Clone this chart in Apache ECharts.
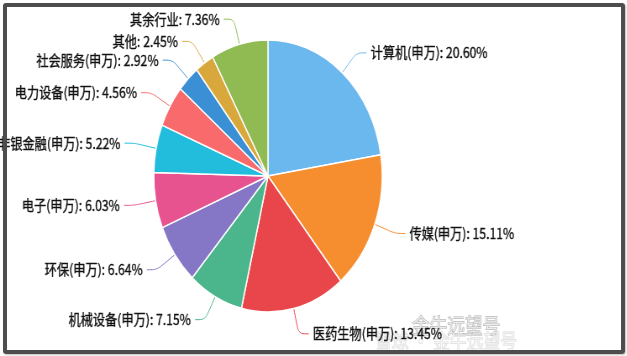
<!DOCTYPE html>
<html>
<head>
<meta charset="utf-8">
<script src="https://cdn.jsdelivr.net/npm/echarts@6/dist/echarts.min.js"></script>
<style>
html,body{margin:0;padding:0;background:#fff;width:627px;height:356px;overflow:hidden;}
#wrap{position:absolute;left:0;top:0;width:746px;height:356px;transform:scaleX(0.84);transform-origin:0 0;}
#chart{width:746px;height:356px;}
#frame{position:absolute;left:3px;top:3px;width:622px;height:351px;box-sizing:border-box;border:4px solid #4d4d4d;border-radius:3px;pointer-events:none;box-shadow:1px 1px 2px rgba(0,0,0,0.25);}
</style>
</head>
<body>
<div id="wrap"><div id="chart"></div></div>
<div id="frame"></div>
<script>
const categories = ['计算机(申万)','传媒(申万)','医药生物(申万)','机械设备(申万)','环保(申万)','电子(申万)','非银金融(申万)','电力设备(申万)','社会服务(申万)','其他','其余行业'];
const values = [20.60, 15.11, 13.45, 7.15, 6.64, 6.03, 5.22, 4.56, 2.92, 2.45, 7.36];
const colors = ['#6bb8ef','#f68d2e','#e8464a','#4bb58b','#8676c6','#e6538f','#22bcdc','#f96a6c','#3b8fd4','#d8a83c','#8fbb52'];

const chart = echarts.init(document.getElementById('chart'), null, {renderer:'canvas'});
chart.setOption({
  animation:false,
  color: colors,
  series:[{
    type:'pie',
    center:[319,176],
    radius:136,
    startAngle:90,
    clockwise:true,
    avoidLabelOverlap:true,
    itemStyle:{borderColor:'#fff',borderWidth:1.5},
    label:{
      formatter:function(p){return p.name + ': ' + p.value.toFixed(2) + '%';},
      color:'#111',
      fontSize:14.5,
      overflow:'none',
      textBorderColor:'#111',
      textBorderWidth:0.35,
      fontFamily:'"Noto Sans CJK SC", "Noto Sans", sans-serif'
    },
    labelLine:{length:26,length2:12,smooth:true,lineStyle:{width:1}},
    data: categories.map((c,i)=>({name:c,value:values[i]}))
  }],
  graphic:[
    {type:'text',left:490,top:314,style:{text:'金牛远望号',fill:'rgba(255,255,255,0.55)',stroke:'rgba(110,110,110,0.55)',lineWidth:1,font:'21px "Noto Sans CJK SC"'}},
    {type:'text',left:446,top:331,style:{text:'雪球 · 金牛远望号',fill:'rgba(255,255,255,0.5)',stroke:'rgba(170,170,170,0.45)',lineWidth:1,font:'20px "Noto Sans CJK SC"'}}
  ]
});
</script>
</body>
</html>
